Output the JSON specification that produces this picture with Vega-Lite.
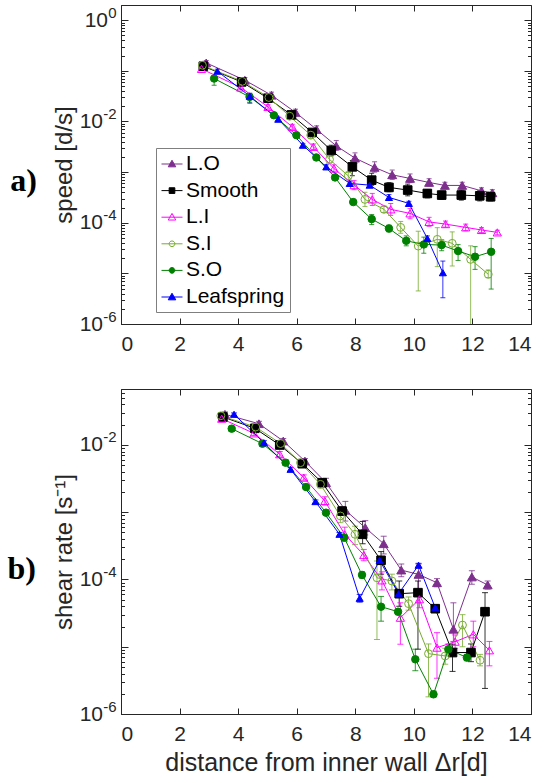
{
  "$schema": "https://vega.github.io/schema/vega-lite/v6.json",
  "background": "white",
  "padding": {"left": 6, "top": 4, "right": 5, "bottom": 3},
  "spacing": 26,
  "config": {
    "view": {"stroke": "#262626", "strokeWidth": 1},
    "axis": {"grid": false, "labelFont": "Liberation Sans", "labelFontSize": 21, "titleFont": "Liberation Sans", "titleFontSize": 24, "titleFontWeight": "normal", "labelColor": "#262626", "titleColor": "#262626", "domainColor": "#262626", "tickColor": "#262626", "labelOverlap": false}
  },
  "datasets": {
    "a": [
      {"s":"L.O","x":2.91,"y":0.1436,"lo":0.13,"hi":0.16},
      {"s":"L.O","x":4.23,"y":0.0653,"lo":0.058,"hi":0.074},
      {"s":"L.O","x":5.14,"y":0.033,"lo":0.029,"hi":0.038},
      {"s":"L.O","x":5.96,"y":0.0151,"lo":0.013,"hi":0.0175},
      {"s":"L.O","x":6.68,"y":0.00695,"lo":0.006,"hi":0.0082},
      {"s":"L.O","x":7.35,"y":0.0033,"lo":0.0027,"hi":0.0042},
      {"s":"L.O","x":7.99,"y":0.00189,"lo":0.0015,"hi":0.0024},
      {"s":"L.O","x":8.66,"y":0.00124,"lo":0.001,"hi":0.0016},
      {"s":"L.O","x":9.26,"y":0.000885,"lo":0.00072,"hi":0.0011},
      {"s":"L.O","x":9.87,"y":0.00075,"lo":0.00062,"hi":0.00092},
      {"s":"L.O","x":10.52,"y":0.000625,"lo":0.00053,"hi":0.00074},
      {"s":"L.O","x":11.06,"y":0.000546,"lo":0.00047,"hi":0.00063},
      {"s":"L.O","x":11.65,"y":0.000546,"lo":0.00047,"hi":0.00063},
      {"s":"L.O","x":12.31,"y":0.000427,"lo":0.00037,"hi":0.00049},
      {"s":"L.O","x":12.68,"y":0.00039,"lo":0.00034,"hi":0.00045},
      {"s":"Smooth","x":2.81,"y":0.1236,"lo":0.112,"hi":0.136},
      {"s":"Smooth","x":4.12,"y":0.0605,"lo":0.055,"hi":0.067},
      {"s":"Smooth","x":5.02,"y":0.0288,"lo":0.026,"hi":0.032},
      {"s":"Smooth","x":5.82,"y":0.0135,"lo":0.012,"hi":0.015},
      {"s":"Smooth","x":6.53,"y":0.00607,"lo":0.0053,"hi":0.0069},
      {"s":"Smooth","x":7.18,"y":0.00268,"lo":0.0021,"hi":0.0034},
      {"s":"Smooth","x":7.9,"y":0.00127,"lo":0.00085,"hi":0.0017},
      {"s":"Smooth","x":8.56,"y":0.000695,"lo":0.00055,"hi":0.00095},
      {"s":"Smooth","x":9.15,"y":0.000499,"lo":0.00041,"hi":0.00062},
      {"s":"Smooth","x":9.79,"y":0.000442,"lo":0.00034,"hi":0.00058},
      {"s":"Smooth","x":10.46,"y":0.000379,"lo":0.00031,"hi":0.00045},
      {"s":"Smooth","x":10.95,"y":0.000352,"lo":0.00029,"hi":0.00042},
      {"s":"Smooth","x":11.62,"y":0.000352,"lo":0.00028,"hi":0.00044},
      {"s":"Smooth","x":12.25,"y":0.00034,"lo":0.00027,"hi":0.00043},
      {"s":"Smooth","x":12.62,"y":0.000326,"lo":0.00027,"hi":0.0004},
      {"s":"L.I","x":2.75,"y":0.1094,"lo":0.1,"hi":0.12},
      {"s":"L.I","x":4.09,"y":0.0469,"lo":0.043,"hi":0.052},
      {"s":"L.I","x":5.02,"y":0.01945,"lo":0.0175,"hi":0.0215},
      {"s":"L.I","x":5.85,"y":0.00783,"lo":0.007,"hi":0.0088},
      {"s":"L.I","x":6.57,"y":0.00316,"lo":0.0028,"hi":0.0036},
      {"s":"L.I","x":7.27,"y":0.00118,"lo":0.001,"hi":0.0014},
      {"s":"L.I","x":7.96,"y":0.000553,"lo":0.00045,"hi":0.00068},
      {"s":"L.I","x":8.58,"y":0.000289,"lo":0.00022,"hi":0.00038},
      {"s":"L.I","x":9.21,"y":0.000184,"lo":0.00014,"hi":0.00024},
      {"s":"L.I","x":9.87,"y":0.000153,"lo":0.00012,"hi":0.00019},
      {"s":"L.I","x":10.52,"y":0.000104,"lo":0.000085,"hi":0.000128},
      {"s":"L.I","x":11.08,"y":0.000094,"lo":0.000082,"hi":0.000108},
      {"s":"L.I","x":11.77,"y":0.000081,"lo":0.00007,"hi":0.000094},
      {"s":"L.I","x":12.31,"y":0.000072,"lo":0.000064,"hi":0.00008},
      {"s":"L.I","x":12.85,"y":0.0000645,"lo":0.000058,"hi":0.000071},
      {"s":"S.I","x":2.78,"y":0.129,"lo":0.12,"hi":0.14},
      {"s":"S.I","x":4.14,"y":0.062,"lo":0.056,"hi":0.068},
      {"s":"S.I","x":5.05,"y":0.0298,"lo":0.027,"hi":0.033},
      {"s":"S.I","x":5.76,"y":0.0127,"lo":0.0112,"hi":0.0143},
      {"s":"S.I","x":6.48,"y":0.00537,"lo":0.0046,"hi":0.0063},
      {"s":"S.I","x":7.12,"y":0.00178,"lo":0.0015,"hi":0.0021},
      {"s":"S.I","x":7.76,"y":0.000845,"lo":0.0007,"hi":0.00102},
      {"s":"S.I","x":8.33,"y":0.000289,"lo":0.00021,"hi":0.0004},
      {"s":"S.I","x":8.98,"y":0.000184,"lo":0.00016,"hi":0.00021},
      {"s":"S.I","x":9.55,"y":0.000081,"lo":0.000062,"hi":0.000106},
      {"s":"S.I","x":10.15,"y":0.0000346,"lo":0.0000045,"hi":0.000068},
      {"s":"S.I","x":10.8,"y":0.000047,"lo":0.0000136,"hi":0.00008},
      {"s":"S.I","x":11.31,"y":0.0000392,"lo":0.000014,"hi":0.000066},
      {"s":"S.I","x":11.94,"y":0.0000189,"lo":0.0000005,"hi":0.000035},
      {"s":"S.I","x":12.54,"y":0.0000096,"lo":0.0000082,"hi":0.0000117},
      {"s":"S.O","x":3.18,"y":0.0706,"lo":0.052,"hi":0.08},
      {"s":"S.O","x":4.39,"y":0.0306,"lo":0.024,"hi":0.036},
      {"s":"S.O","x":5.22,"y":0.0133,"lo":0.0118,"hi":0.015},
      {"s":"S.O","x":5.99,"y":0.00537,"lo":0.0048,"hi":0.006},
      {"s":"S.O","x":6.67,"y":0.00195,"lo":0.00175,"hi":0.0022},
      {"s":"S.O","x":7.31,"y":0.000785,"lo":0.0007,"hi":0.00088},
      {"s":"S.O","x":7.93,"y":0.000256,"lo":0.00023,"hi":0.00029},
      {"s":"S.O","x":8.56,"y":0.000118,"lo":0.000092,"hi":0.000145},
      {"s":"S.O","x":9.15,"y":0.000077,"lo":0.000066,"hi":0.00009},
      {"s":"S.O","x":9.74,"y":0.000044,"lo":0.000035,"hi":0.000055},
      {"s":"S.O","x":10.34,"y":0.0000373,"lo":0.000025,"hi":0.000052},
      {"s":"S.O","x":10.95,"y":0.0000362,"lo":0.000028,"hi":0.000046},
      {"s":"S.O","x":11.51,"y":0.0000276,"lo":0.000018,"hi":0.000037},
      {"s":"S.O","x":12.09,"y":0.0000213,"lo":0.000012,"hi":0.0000337},
      {"s":"S.O","x":12.64,"y":0.0000267,"lo":0.0000049,"hi":0.000049},
      {"s":"Leafspring","x":3.29,"y":0.0984,"lo":0.09,"hi":0.108},
      {"s":"Leafspring","x":4.4,"y":0.0316,"lo":0.023,"hi":0.036},
      {"s":"Leafspring","x":5.37,"y":0.0111,"lo":0.0102,"hi":0.012},
      {"s":"Leafspring","x":6.21,"y":0.0034,"lo":0.0031,"hi":0.0037},
      {"s":"Leafspring","x":7.01,"y":0.00127,"lo":0.00115,"hi":0.0014},
      {"s":"Leafspring","x":7.81,"y":0.000598,"lo":0.00054,"hi":0.00066},
      {"s":"Leafspring","x":8.49,"y":0.000553,"lo":0.0005,"hi":0.00061},
      {"s":"Leafspring","x":9.15,"y":0.000316,"lo":0.00028,"hi":0.00036},
      {"s":"Leafspring","x":9.83,"y":0.000241,"lo":0.00022,"hi":0.000265},
      {"s":"Leafspring","x":10.46,"y":0.000049,"lo":0.000044,"hi":0.000055},
      {"s":"Leafspring","x":10.99,"y":0.0000103,"lo":0.0000033,"hi":0.0000175}
    ],
    "b": [
      {"s":"L.O","x":3.55,"y":0.0286,"lo":0.026,"hi":0.031},
      {"s":"L.O","x":4.71,"y":0.0207,"lo":0.019,"hi":0.0225},
      {"s":"L.O","x":5.54,"y":0.01146,"lo":0.0105,"hi":0.0125},
      {"s":"L.O","x":6.28,"y":0.00578,"lo":0.0053,"hi":0.0063},
      {"s":"L.O","x":7.0,"y":0.00275,"lo":0.0024,"hi":0.0032},
      {"s":"L.O","x":7.66,"y":0.00107,"lo":0.00074,"hi":0.00145},
      {"s":"L.O","x":8.34,"y":0.000589,"lo":0.00046,"hi":0.00075},
      {"s":"L.O","x":8.97,"y":0.00034,"lo":0.00024,"hi":0.00044},
      {"s":"L.O","x":9.57,"y":0.000138,"lo":0.00011,"hi":0.00017},
      {"s":"L.O","x":10.16,"y":0.000119,"lo":0.000065,"hi":0.00017},
      {"s":"L.O","x":10.79,"y":0.0000895,"lo":0.000078,"hi":0.000103},
      {"s":"L.O","x":11.35,"y":0.0000182,"lo":0.000012,"hi":0.000045},
      {"s":"L.O","x":11.98,"y":0.000109,"lo":0.000085,"hi":0.000135},
      {"s":"L.O","x":12.52,"y":0.000083,"lo":0.000072,"hi":0.000095},
      {"s":"Smooth","x":3.48,"y":0.0261,"lo":0.024,"hi":0.028},
      {"s":"Smooth","x":4.57,"y":0.0177,"lo":0.0165,"hi":0.019},
      {"s":"Smooth","x":5.42,"y":0.01,"lo":0.0093,"hi":0.0108},
      {"s":"Smooth","x":6.19,"y":0.00527,"lo":0.0049,"hi":0.0057},
      {"s":"Smooth","x":6.87,"y":0.00275,"lo":0.0025,"hi":0.003},
      {"s":"Smooth","x":7.55,"y":0.00104,"lo":0.0009,"hi":0.0012},
      {"s":"Smooth","x":8.25,"y":0.00047,"lo":0.00034,"hi":0.00073},
      {"s":"Smooth","x":8.88,"y":0.000193,"lo":0.00012,"hi":0.00026},
      {"s":"Smooth","x":9.5,"y":0.0000615,"lo":0.00004,"hi":0.000095},
      {"s":"Smooth","x":10.14,"y":0.0000637,"lo":0.0000092,"hi":0.000095},
      {"s":"Smooth","x":10.73,"y":0.0000368,"lo":0.000033,"hi":0.000041},
      {"s":"Smooth","x":11.32,"y":0.0000082,"lo":0.0000043,"hi":0.0000109},
      {"s":"Smooth","x":11.95,"y":0.0000082,"lo":0.000006,"hi":0.000011},
      {"s":"Smooth","x":12.43,"y":0.0000332,"lo":0.0000024,"hi":0.0000637},
      {"s":"L.I","x":3.44,"y":0.0246,"lo":0.023,"hi":0.0265},
      {"s":"L.I","x":4.54,"y":0.0149,"lo":0.0138,"hi":0.016},
      {"s":"L.I","x":5.42,"y":0.00728,"lo":0.0066,"hi":0.008},
      {"s":"L.I","x":6.24,"y":0.00327,"lo":0.003,"hi":0.0036},
      {"s":"L.I","x":6.96,"y":0.00147,"lo":0.00128,"hi":0.0017},
      {"s":"L.I","x":7.64,"y":0.00047,"lo":0.00037,"hi":0.0006},
      {"s":"L.I","x":8.29,"y":0.000231,"lo":0.00019,"hi":0.00028},
      {"s":"L.I","x":8.91,"y":0.000097,"lo":0.00007,"hi":0.00013},
      {"s":"L.I","x":9.54,"y":0.000027,"lo":0.0000109,"hi":0.000045},
      {"s":"L.I","x":10.19,"y":0.0000508,"lo":0.000038,"hi":0.000068},
      {"s":"L.I","x":10.79,"y":0.0000097,"lo":0.0000034,"hi":0.0000162},
      {"s":"L.I","x":11.41,"y":0.0000119,"lo":0.0000095,"hi":0.000015},
      {"s":"L.I","x":12.03,"y":0.0000153,"lo":0.00001,"hi":0.000024},
      {"s":"L.I","x":12.58,"y":0.00000885,"lo":0.0000052,"hi":0.000012},
      {"s":"S.I","x":3.41,"y":0.0272,"lo":0.025,"hi":0.029},
      {"s":"S.I","x":4.6,"y":0.0185,"lo":0.017,"hi":0.02},
      {"s":"S.I","x":5.45,"y":0.0105,"lo":0.0097,"hi":0.0114},
      {"s":"S.I","x":6.13,"y":0.00546,"lo":0.005,"hi":0.006},
      {"s":"S.I","x":6.81,"y":0.0026,"lo":0.0023,"hi":0.0029},
      {"s":"S.I","x":7.49,"y":0.00088,"lo":0.0007,"hi":0.0011},
      {"s":"S.I","x":7.99,"y":0.00047,"lo":0.00033,"hi":0.00062},
      {"s":"S.I","x":8.74,"y":0.000106,"lo":0.0000128,"hi":0.000188},
      {"s":"S.I","x":9.25,"y":0.000095,"lo":0.00007,"hi":0.00012},
      {"s":"S.I","x":9.82,"y":0.0000437,"lo":0.000035,"hi":0.000055},
      {"s":"S.I","x":10.5,"y":0.0000079,"lo":0.0000018,"hi":0.000011},
      {"s":"S.I","x":11.07,"y":0.0000073,"lo":0.0000055,"hi":0.0000095},
      {"s":"S.I","x":11.66,"y":0.000021,"lo":0.00001,"hi":0.00003},
      {"s":"S.I","x":12.26,"y":0.0000063,"lo":0.0000052,"hi":0.0000077},
      {"s":"S.O","x":3.78,"y":0.0175,"lo":0.016,"hi":0.019},
      {"s":"S.O","x":4.83,"y":0.01045,"lo":0.0095,"hi":0.0115},
      {"s":"S.O","x":5.62,"y":0.00546,"lo":0.005,"hi":0.006},
      {"s":"S.O","x":6.32,"y":0.00237,"lo":0.0022,"hi":0.0026},
      {"s":"S.O","x":7.0,"y":0.000985,"lo":0.0009,"hi":0.00108},
      {"s":"S.O","x":7.62,"y":0.00042,"lo":0.00038,"hi":0.00046},
      {"s":"S.O","x":8.23,"y":0.000117,"lo":0.000105,"hi":0.00013},
      {"s":"S.O","x":8.88,"y":0.0000394,"lo":0.000024,"hi":0.000056},
      {"s":"S.O","x":9.46,"y":0.0000332,"lo":0.00003,"hi":0.0000365},
      {"s":"S.O","x":10.05,"y":0.0000065,"lo":0.0000044,"hi":0.0000092},
      {"s":"S.O","x":10.67,"y":0.00000196,"lo":0.0000018,"hi":0.0000022},
      {"s":"S.O","x":11.18,"y":0.0000092,"lo":0.0000082,"hi":0.000011},
      {"s":"S.O","x":11.81,"y":0.0000069,"lo":0.0000062,"hi":0.0000077},
      {"s":"Leafspring","x":3.86,"y":0.0286,"lo":0.027,"hi":0.03},
      {"s":"Leafspring","x":4.88,"y":0.0108,"lo":0.0101,"hi":0.0116},
      {"s":"Leafspring","x":5.79,"y":0.00435,"lo":0.0041,"hi":0.0046},
      {"s":"Leafspring","x":6.64,"y":0.00144,"lo":0.00136,"hi":0.00152},
      {"s":"Leafspring","x":7.46,"y":0.00047,"lo":0.00044,"hi":0.0005},
      {"s":"Leafspring","x":8.15,"y":0.0000525,"lo":0.000046,"hi":0.00006},
      {"s":"Leafspring","x":8.83,"y":0.000193,"lo":0.00018,"hi":0.000206},
      {"s":"Leafspring","x":9.48,"y":0.0000615,"lo":0.000057,"hi":0.000066},
      {"s":"Leafspring","x":10.16,"y":0.000163,"lo":0.000152,"hi":0.000174},
      {"s":"Leafspring","x":10.73,"y":0.0000381,"lo":0.000034,"hi":0.000042}
    ]
  },
  "vconcat": [
    {
      "width": 410,
      "height": 319,
      "title": {"text": "a)", "orient": "left", "angle": 0, "font": "Liberation Serif", "fontSize": 32, "fontWeight": "bold", "color": "#000000", "offset": 2, "dy": 1, "anchor": "middle"},
      "data": {"name": "a"},
      "resolve": {"scale": {"shape": "independent", "fill": "independent", "stroke": "independent"}, "axis": {"x": "independent", "y": "independent"}},
      "layer": [
        {
          "mark": {"type": "rule", "clip": true, "strokeWidth": 1, "opacity": 0.8},
          "encoding": {
            "x": {"field": "x", "type": "quantitative", "scale": {"domain": [0, 14], "nice": false, "zero": false}, "axis": null},
            "y": {"field": "lo", "type": "quantitative", "scale": {"type": "log", "domain": [0.000001, 2], "nice": false}, "axis": null},
            "y2": {"field": "hi"},
            "color": {"field": "s", "type": "nominal", "scale": {"domain": ["L.O","Smooth","L.I","S.I","S.O","Leafspring"], "range": ["#7E2F8E","#000000","#FF00FF","#77AC30","#008000","#0000FF"]}, "legend": null}
          }
        },
        {
          "mark": {"type": "tick", "orient": "horizontal", "size": 5, "thickness": 1, "clip": true, "opacity": 0.8},
          "encoding": {
            "x": {"field": "x", "type": "quantitative", "scale": {"domain": [0, 14], "nice": false, "zero": false}, "axis": null},
            "y": {"field": "lo", "type": "quantitative", "scale": {"type": "log", "domain": [0.000001, 2], "nice": false}, "axis": null},
            "color": {"field": "s", "type": "nominal", "scale": {"domain": ["L.O","Smooth","L.I","S.I","S.O","Leafspring"], "range": ["#7E2F8E","#000000","#FF00FF","#77AC30","#008000","#0000FF"]}, "legend": null}
          }
        },
        {
          "mark": {"type": "tick", "orient": "horizontal", "size": 5, "thickness": 1, "clip": true, "opacity": 0.8},
          "encoding": {
            "x": {"field": "x", "type": "quantitative", "scale": {"domain": [0, 14], "nice": false, "zero": false}, "axis": null},
            "y": {"field": "hi", "type": "quantitative", "scale": {"type": "log", "domain": [0.000001, 2], "nice": false}, "axis": null},
            "color": {"field": "s", "type": "nominal", "scale": {"domain": ["L.O","Smooth","L.I","S.I","S.O","Leafspring"], "range": ["#7E2F8E","#000000","#FF00FF","#77AC30","#008000","#0000FF"]}, "legend": null}
          }
        },
        {
          "mark": {"type": "line", "strokeWidth": 1, "clip": true},
          "encoding": {
            "x": {"field": "x", "type": "quantitative", "scale": {"domain": [0, 14], "nice": false, "zero": false},
                  "axis": {"values": [0,2,4,6,8,10,12,14], "tickSize": -6, "labelPadding": 15, "title": null}},
            "y": {"field": "y", "type": "quantitative", "scale": {"type": "log", "domain": [0.000001, 2], "nice": false},
                  "axis": {"orient": "left", "title": "speed [d/s]", "titlePadding": 3,
                           "values": [0.000001,0.000002,0.000003,0.000004,0.000005,0.000006,0.000007,0.000008,0.000009,0.00001,0.00002,0.00003,0.00004,0.00005,0.00006,0.00007,0.00008,0.00009,0.0001,0.0002,0.0003,0.0004,0.0005,0.0006,0.0007,0.0008,0.0009,0.001,0.002,0.003,0.004,0.005,0.006,0.007,0.008,0.009,0.01,0.02,0.03,0.04,0.05,0.06,0.07,0.08,0.09,0.1,0.2,0.3,0.4,0.5,0.6,0.7,0.8,0.9,1],
                           "tickSize": {"condition": {"test": "abs(log(datum.value)/LN10 - round(log(datum.value)/LN10)) < 0.001", "value": -7}, "value": -3.5},
                           "labelPadding": {"condition": {"test": "datum.value > 0.5", "value": 20.5}, "value": 25.5},
                           "labelExpr": "abs(log(datum.value)/LN10 - round(log(datum.value)/LN10)) < 0.001 && round(log(datum.value)/LN10) % 2 == 0 ? '10' : ''"}},
            "color": {"field": "s", "type": "nominal", "scale": {"domain": ["L.O","Smooth","L.I","S.I","S.O","Leafspring"], "range": ["#7E2F8E","#000000","#FF00FF","#77AC30","#008000","#0000FF"]}, "legend": null},
            "order": {"field": "x", "type": "quantitative"}
          }
        },
        {
          "mark": {"type": "point", "filled": true, "opacity": 1, "strokeWidth": 1, "clip": true},
          "encoding": {
            "x": {"field": "x", "type": "quantitative", "scale": {"domain": [0, 14], "nice": false, "zero": false}, "axis": null},
            "y": {"field": "y", "type": "quantitative", "scale": {"type": "log", "domain": [0.000001, 2], "nice": false}, "axis": null},
            "shape": {"field": "s", "type": "nominal", "scale": {"domain": ["L.O","Smooth","L.I","S.I","S.O","Leafspring"], "range": ["triangle-up","square","triangle-up","circle","circle","triangle-up"]}, "legend": null},
            "fill": {"field": "s", "type": "nominal", "scale": {"domain": ["L.O","Smooth","L.I","S.I","S.O","Leafspring"], "range": ["#7E2F8E","#000000","transparent","transparent","#008000","#0000FF"]}, "legend": null},
            "stroke": {"field": "s", "type": "nominal", "scale": {"domain": ["L.O","Smooth","L.I","S.I","S.O","Leafspring"], "range": ["#7E2F8E","#000000","#FF00FF","#77AC30","#008000","#0000FF"]}, "legend": null},
            "size": {"field": "s", "type": "nominal", "scale": {"domain": ["L.O","Smooth","L.I","S.I","S.O","Leafspring"], "range": [80,50,75,50,50,80]}, "legend": null}
          }
        },
        {
          "transform": [{"filter": "false"}],
          "mark": {"type": "point", "filled": true, "opacity": 1},
          "encoding": {
            "x": {"field": "x", "type": "quantitative", "scale": {"domain": [0, 14], "nice": false, "zero": false},
                  "axis": {"orient": "top", "labels": false, "domain": false, "title": null, "values": [0,2,4,6,8,10,12,14], "tickSize": -6}},
            "y": {"field": "y", "type": "quantitative", "scale": {"type": "log", "domain": [0.000001, 2], "nice": false},
                  "axis": {"orient": "right", "labels": false, "domain": false, "title": null,
                           "values": [0.000001,0.000002,0.000003,0.000004,0.000005,0.000006,0.000007,0.000008,0.000009,0.00001,0.00002,0.00003,0.00004,0.00005,0.00006,0.00007,0.00008,0.00009,0.0001,0.0002,0.0003,0.0004,0.0005,0.0006,0.0007,0.0008,0.0009,0.001,0.002,0.003,0.004,0.005,0.006,0.007,0.008,0.009,0.01,0.02,0.03,0.04,0.05,0.06,0.07,0.08,0.09,0.1,0.2,0.3,0.4,0.5,0.6,0.7,0.8,0.9,1],
                           "tickSize": {"condition": {"test": "abs(log(datum.value)/LN10 - round(log(datum.value)/LN10)) < 0.001", "value": -7}, "value": -3.5}}},
            "shape": {"field": "s", "type": "nominal", "scale": {"domain": ["L.O","Smooth","L.I","S.I","S.O","Leafspring"], "range": ["M-1,0H1M0,-0.36L0.36,0.27L-0.36,0.27Z","M-1,0H1M-0.27,-0.27H0.27V0.27H-0.27Z","M-1,0H1M0,-0.36L0.36,0.27L-0.36,0.27Z","M-1,0H1M-0.27,0A0.27,0.27,0,1,1,0.27,0A0.27,0.27,0,1,1,-0.27,0Z","M-1,0H1M-0.27,0A0.27,0.27,0,1,1,0.27,0A0.27,0.27,0,1,1,-0.27,0Z","M-1,0H1M0,-0.36L0.36,0.27L-0.36,0.27Z"]},
                      "legend": {"title": null, "orient": "none", "legendX": 35, "legendY": 143, "symbolSize": 441, "symbolStrokeWidth": 1, "labelFont": "Liberation Sans", "labelFontSize": 21, "labelColor": "#000000", "rowPadding": 5.6, "padding": 5, "strokeColor": "#7f7f7f", "fillColor": "#ffffff", "labelOffset": 3, "labelExpr": "datum.label + ' '"}},
            "fill": {"field": "s", "type": "nominal", "scale": {"domain": ["L.O","Smooth","L.I","S.I","S.O","Leafspring"], "range": ["#7E2F8E","#000000","transparent","transparent","#008000","#0000FF"]},
                     "legend": {"title": null, "orient": "none", "legendX": 35, "legendY": 143, "symbolSize": 441, "symbolStrokeWidth": 1, "labelFont": "Liberation Sans", "labelFontSize": 21, "labelColor": "#000000", "rowPadding": 5.6, "padding": 5, "strokeColor": "#7f7f7f", "fillColor": "#ffffff", "labelOffset": 3, "labelExpr": "datum.label + ' '"}},
            "stroke": {"field": "s", "type": "nominal", "scale": {"domain": ["L.O","Smooth","L.I","S.I","S.O","Leafspring"], "range": ["#7E2F8E","#000000","#FF00FF","#77AC30","#008000","#0000FF"]},
                       "legend": {"title": null, "orient": "none", "legendX": 35, "legendY": 143, "symbolSize": 441, "symbolStrokeWidth": 1, "labelFont": "Liberation Sans", "labelFontSize": 21, "labelColor": "#000000", "rowPadding": 5.6, "padding": 5, "strokeColor": "#7f7f7f", "fillColor": "#ffffff", "labelOffset": 3, "labelExpr": "datum.label + ' '"}}
          }
        },
        {
          "transform": [{"filter": "false"}],
          "mark": {"type": "point", "opacity": 1},
          "encoding": {
            "x": {"field": "x", "type": "quantitative", "scale": {"domain": [0, 14], "nice": false, "zero": false}, "axis": null},
            "y": {"field": "y", "type": "quantitative", "scale": {"type": "log", "domain": [0.000001, 2], "nice": false},
                  "axis": {"orient": "left", "ticks": false, "tickSize": 0, "domain": false, "title": null, "values": [0.000001, 0.0001, 0.01, 1],
                           "labelFontSize": 15, "labelPadding": 5, "labelOffset": -8, "labelAlign": "right",
                           "labelExpr": "datum.value > 0.5 ? '0' : datum.value > 0.005 ? '-2' : datum.value > 0.00005 ? '-4' : '-6'"}}
          }
        }
      ]
    },
    {
      "width": 410,
      "height": 325,
      "title": {"text": "b)", "orient": "left", "angle": 0, "font": "Liberation Serif", "fontSize": 32, "fontWeight": "bold", "color": "#000000", "offset": 2, "dy": 2, "anchor": "middle"},
      "data": {"name": "b"},
      "resolve": {"scale": {"shape": "independent", "fill": "independent", "stroke": "independent"}, "axis": {"x": "independent", "y": "independent"}},
      "layer": [
        {
          "mark": {"type": "rule", "clip": true, "strokeWidth": 1, "opacity": 0.8},
          "encoding": {
            "x": {"field": "x", "type": "quantitative", "scale": {"domain": [0, 14], "nice": false, "zero": false}, "axis": null},
            "y": {"field": "lo", "type": "quantitative", "scale": {"type": "log", "domain": [0.000001, 0.068], "nice": false}, "axis": null},
            "y2": {"field": "hi"},
            "color": {"field": "s", "type": "nominal", "scale": {"domain": ["L.O","Smooth","L.I","S.I","S.O","Leafspring"], "range": ["#7E2F8E","#000000","#FF00FF","#77AC30","#008000","#0000FF"]}, "legend": null}
          }
        },
        {
          "mark": {"type": "tick", "orient": "horizontal", "size": 6, "thickness": 1, "clip": true, "opacity": 0.8},
          "encoding": {
            "x": {"field": "x", "type": "quantitative", "scale": {"domain": [0, 14], "nice": false, "zero": false}, "axis": null},
            "y": {"field": "lo", "type": "quantitative", "scale": {"type": "log", "domain": [0.000001, 0.068], "nice": false}, "axis": null},
            "color": {"field": "s", "type": "nominal", "scale": {"domain": ["L.O","Smooth","L.I","S.I","S.O","Leafspring"], "range": ["#7E2F8E","#000000","#FF00FF","#77AC30","#008000","#0000FF"]}, "legend": null}
          }
        },
        {
          "mark": {"type": "tick", "orient": "horizontal", "size": 6, "thickness": 1, "clip": true, "opacity": 0.8},
          "encoding": {
            "x": {"field": "x", "type": "quantitative", "scale": {"domain": [0, 14], "nice": false, "zero": false}, "axis": null},
            "y": {"field": "hi", "type": "quantitative", "scale": {"type": "log", "domain": [0.000001, 0.068], "nice": false}, "axis": null},
            "color": {"field": "s", "type": "nominal", "scale": {"domain": ["L.O","Smooth","L.I","S.I","S.O","Leafspring"], "range": ["#7E2F8E","#000000","#FF00FF","#77AC30","#008000","#0000FF"]}, "legend": null}
          }
        },
        {
          "mark": {"type": "line", "strokeWidth": 1, "clip": true},
          "encoding": {
            "x": {"field": "x", "type": "quantitative", "scale": {"domain": [0, 14], "nice": false, "zero": false},
                  "axis": {"values": [0,2,4,6,8,10,12,14], "tickSize": -6, "labelPadding": 15, "title": "distance from inner wall  Δr[d]", "titlePadding": 6, "titleFontSize": 25}},
            "y": {"field": "y", "type": "quantitative", "scale": {"type": "log", "domain": [0.000001, 0.068], "nice": false},
                  "axis": {"orient": "left", "title": "shear rate [s⁻¹]", "titlePadding": 3,
                           "values": [0.000001,0.000002,0.000003,0.000004,0.000005,0.000006,0.000007,0.000008,0.000009,0.00001,0.00002,0.00003,0.00004,0.00005,0.00006,0.00007,0.00008,0.00009,0.0001,0.0002,0.0003,0.0004,0.0005,0.0006,0.0007,0.0008,0.0009,0.001,0.002,0.003,0.004,0.005,0.006,0.007,0.008,0.009,0.01,0.02,0.03,0.04,0.05,0.06],
                           "tickSize": {"condition": {"test": "abs(log(datum.value)/LN10 - round(log(datum.value)/LN10)) < 0.001", "value": -7}, "value": -3.5},
                           "labelPadding": 25.5,
                           "labelExpr": "abs(log(datum.value)/LN10 - round(log(datum.value)/LN10)) < 0.001 && round(log(datum.value)/LN10) % 2 == 0 ? '10' : ''"}},
            "color": {"field": "s", "type": "nominal", "scale": {"domain": ["L.O","Smooth","L.I","S.I","S.O","Leafspring"], "range": ["#7E2F8E","#000000","#FF00FF","#77AC30","#008000","#0000FF"]}, "legend": null},
            "order": {"field": "x", "type": "quantitative"}
          }
        },
        {
          "mark": {"type": "point", "filled": true, "opacity": 1, "strokeWidth": 1, "clip": true},
          "encoding": {
            "x": {"field": "x", "type": "quantitative", "scale": {"domain": [0, 14], "nice": false, "zero": false}, "axis": null},
            "y": {"field": "y", "type": "quantitative", "scale": {"type": "log", "domain": [0.000001, 0.068], "nice": false}, "axis": null},
            "shape": {"field": "s", "type": "nominal", "scale": {"domain": ["L.O","Smooth","L.I","S.I","S.O","Leafspring"], "range": ["triangle-up","square","triangle-up","circle","circle","triangle-up"]}, "legend": null},
            "fill": {"field": "s", "type": "nominal", "scale": {"domain": ["L.O","Smooth","L.I","S.I","S.O","Leafspring"], "range": ["#7E2F8E","#000000","transparent","transparent","#008000","#0000FF"]}, "legend": null},
            "stroke": {"field": "s", "type": "nominal", "scale": {"domain": ["L.O","Smooth","L.I","S.I","S.O","Leafspring"], "range": ["#7E2F8E","#000000","#FF00FF","#77AC30","#008000","#0000FF"]}, "legend": null},
            "size": {"field": "s", "type": "nominal", "scale": {"domain": ["L.O","Smooth","L.I","S.I","S.O","Leafspring"], "range": [125,75,115,80,80,125]}, "legend": null}
          }
        },
        {
          "transform": [{"filter": "false"}],
          "mark": {"type": "point", "opacity": 1},
          "encoding": {
            "x": {"field": "x", "type": "quantitative", "scale": {"domain": [0, 14], "nice": false, "zero": false},
                  "axis": {"orient": "top", "labels": false, "domain": false, "title": null, "values": [0,2,4,6,8,10,12,14], "tickSize": -6}},
            "y": {"field": "y", "type": "quantitative", "scale": {"type": "log", "domain": [0.000001, 0.068], "nice": false},
                  "axis": {"orient": "right", "labels": false, "domain": false, "title": null,
                           "values": [0.000001,0.000002,0.000003,0.000004,0.000005,0.000006,0.000007,0.000008,0.000009,0.00001,0.00002,0.00003,0.00004,0.00005,0.00006,0.00007,0.00008,0.00009,0.0001,0.0002,0.0003,0.0004,0.0005,0.0006,0.0007,0.0008,0.0009,0.001,0.002,0.003,0.004,0.005,0.006,0.007,0.008,0.009,0.01,0.02,0.03,0.04,0.05,0.06],
                           "tickSize": {"condition": {"test": "abs(log(datum.value)/LN10 - round(log(datum.value)/LN10)) < 0.001", "value": -7}, "value": -3.5}}}
          }
        },
        {
          "transform": [{"filter": "false"}],
          "mark": {"type": "point", "opacity": 1},
          "encoding": {
            "x": {"field": "x", "type": "quantitative", "scale": {"domain": [0, 14], "nice": false, "zero": false}, "axis": null},
            "y": {"field": "y", "type": "quantitative", "scale": {"type": "log", "domain": [0.000001, 0.068], "nice": false},
                  "axis": {"orient": "left", "ticks": false, "tickSize": 0, "domain": false, "title": null, "values": [0.000001, 0.0001, 0.01],
                           "labelFontSize": 15, "labelPadding": 5, "labelOffset": -8, "labelAlign": "right",
                           "labelExpr": "datum.value > 0.005 ? '-2' : datum.value > 0.00005 ? '-4' : '-6'"}}
          }
        }
      ]
    }
  ]
}
